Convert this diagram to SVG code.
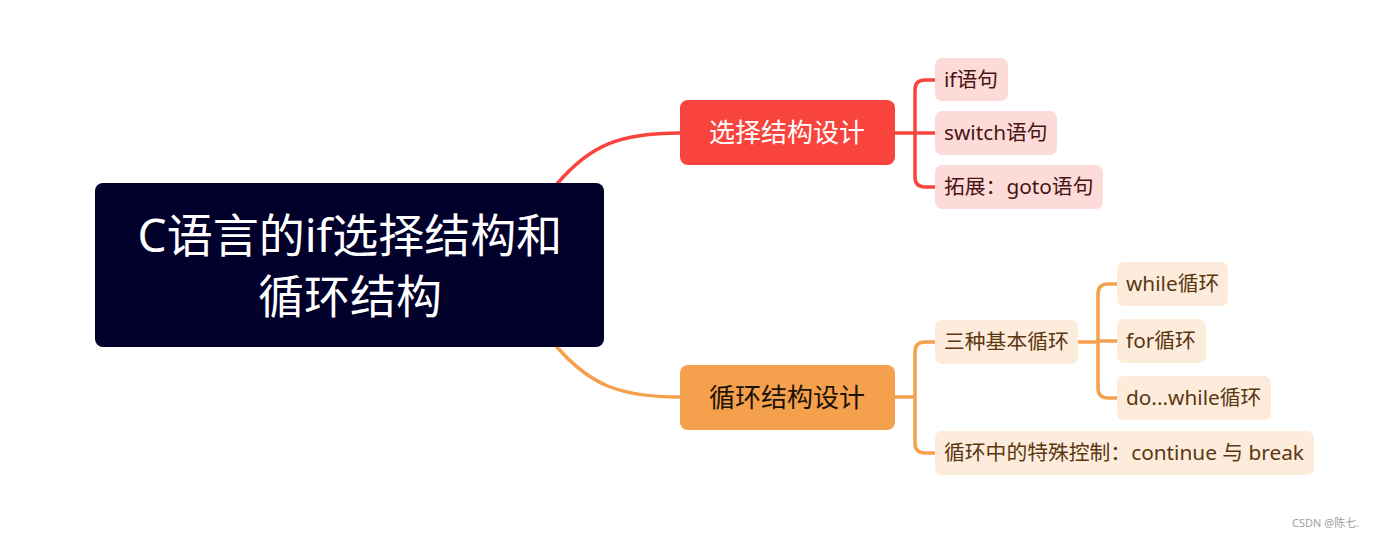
<svg xmlns="http://www.w3.org/2000/svg" width="1384" height="539" viewBox="0 0 1384 539">
<style>
text{font-family:"Noto Sans","Noto Sans CJK SC",sans-serif}
.red{fill:none;stroke:#f9433d;stroke-width:3.5;stroke-linecap:round}
.org{fill:none;stroke:#f5a04c;stroke-width:3.5;stroke-linecap:round}
.rc{fill:#fddbd9}
.oc{fill:#fdebdb}
.rt{font-size:20.8px;fill:#4a1414}
.ot{font-size:20.8px;fill:#5a3812}
.mt{font-size:26px;text-anchor:middle}
</style>
<rect width="1384" height="539" fill="#ffffff"/>
<g id="connectors">
<path class="red" d="M557,184 C590,145 620,133 680,133"/>
<path class="org" d="M557,347 C590,385 620,397 680,397"/>
<path class="red" d="M895,133 H915 M935,80 H925 Q915,80 915,90 V177 Q915,187 925,187 H935 M915,133 H935"/>
<path class="org" d="M895,397 H915 M935,342 H925 Q915,342 915,352 V443 Q915,453 925,453 H935"/>
<path class="org" d="M1078,342 H1098 M1117,284 H1108 Q1098,284 1098,294 V388 Q1098,398 1108,398 H1117 M1098,341 H1117"/>
</g>
<g id="root">
<rect x="95" y="183" width="509" height="164" rx="8" fill="#00002a"/>
<text x="350" y="252" font-size="46" fill="#ffffff" text-anchor="middle">C语言的if选择结构和</text>
<text x="350" y="313" font-size="46" fill="#ffffff" text-anchor="middle">循环结构</text>
</g>
<g id="select">
<rect x="680" y="100" width="215" height="65" rx="8" fill="#f9433d"/>
<text x="787" y="142" class="mt" fill="#ffffff">选择结构设计</text>
</g>
<g id="loop">
<rect x="680" y="365" width="215" height="65" rx="8" fill="#f5a04c"/>
<text x="787" y="407" class="mt" fill="#1a1208">循环结构设计</text>
</g>
<g id="if">
<rect class="rc" x="935" y="58" width="73" height="43" rx="7"/>
<text class="rt" x="944" y="87">if语句</text>
</g>
<g id="switch">
<rect class="rc" x="935" y="111" width="122" height="44" rx="7"/>
<text class="rt" x="944" y="140">switch语句</text>
</g>
<g id="goto">
<rect class="rc" x="935" y="165" width="168" height="44" rx="7"/>
<text class="rt" x="944" y="194">拓展：goto语句</text>
</g>
<g id="three">
<rect class="oc" x="935" y="320" width="143" height="44" rx="7"/>
<text class="ot" x="944" y="349">三种基本循环</text>
</g>
<g id="special">
<rect class="oc" x="935" y="431" width="379" height="44" rx="7"/>
<text class="ot" x="944" y="460">循环中的特殊控制：continue 与 break</text>
</g>
<g id="while">
<rect class="oc" x="1117" y="262" width="111" height="44" rx="7"/>
<text class="ot" x="1126" y="291">while循环</text>
</g>
<g id="for">
<rect class="oc" x="1117" y="319" width="89" height="44" rx="7"/>
<text class="ot" x="1126" y="348">for循环</text>
</g>
<g id="dowhile">
<rect class="oc" x="1117" y="376" width="154" height="44" rx="7"/>
<text class="ot" x="1126" y="405">do...while循环</text>
</g>
<text x="1292" y="527" font-size="11" fill="#a0a0a0">CSDN @陈七.</text>
</svg>
